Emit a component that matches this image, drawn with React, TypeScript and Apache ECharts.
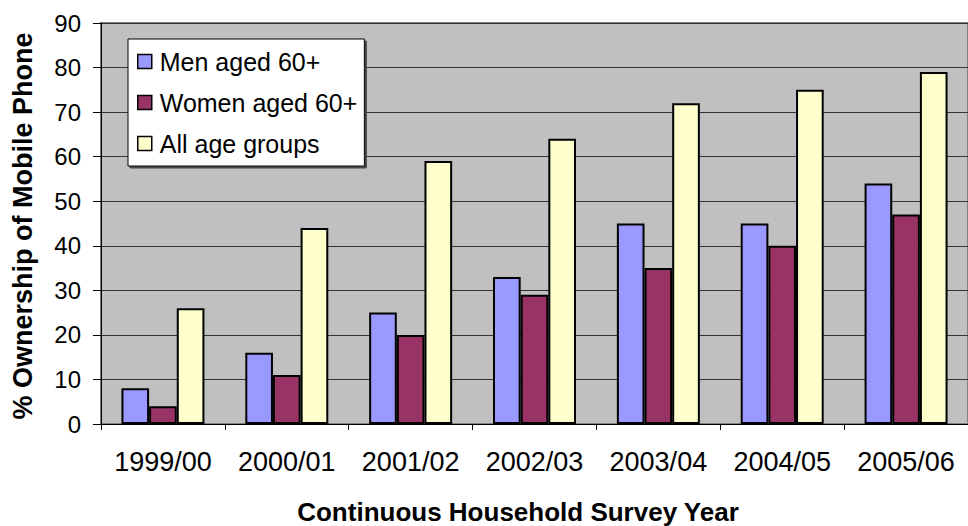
import React, { useEffect, useRef } from "react";
import * as echarts from "echarts";

const categories = ["1999/00", "2000/01", "2001/02", "2002/03", "2003/04", "2004/05", "2005/06"];
const menValues = [8, 16, 25, 33, 45, 45, 54];
const womenValues = [4, 11, 20, 29, 35, 40, 47];
const allValues = [26, 44, 59, 64, 72, 75, 79];
const seriesNames = ["Men aged 60+", "Women aged 60+", "All age groups"];
const yTitle = "% Ownership of Mobile Phone";
const xTitle = "Continuous Household Survey Year";

const FONT = "'Liberation Sans', Arial, sans-serif";

export default function App() {
  const ref = useRef<HTMLDivElement>(null);
  useEffect(() => {
    if (!ref.current) return;
    const chart = echarts.init(ref.current, undefined, { renderer: "svg" });
    const barStyle = (color: string) => ({ color, borderColor: "#000", borderWidth: 2 });
    chart.setOption({
      animation: false,
      backgroundColor: "#fff",
      textStyle: { fontFamily: FONT },
      grid: {
        left: 101,
        top: 23,
        width: 877,
        height: 401,
        show: true,
        backgroundColor: "#C0C0C0",
        borderColor: "#808080",
        borderWidth: 2,
      },
      legend: {
        orient: "vertical",
        left: 128,
        top: 39,
        backgroundColor: "#fff",
        borderColor: "#000",
        borderWidth: 1,
        shadowColor: "#444",
        shadowOffsetX: 2,
        shadowOffsetY: 2,
        shadowBlur: 0,
        padding: [10, 7, 10, 9],
        itemWidth: 14,
        itemHeight: 14,
        itemGap: 16,
        icon: "rect",
        itemStyle: { borderColor: "#000", borderWidth: 1.5 },
        textStyle: { fontFamily: FONT, fontSize: 25, color: "#000", lineHeight: 25, padding: [0, 0, 0, 3] },
        data: seriesNames,
      },
      xAxis: {
        type: "category",
        data: categories,
        axisLine: { show: true, lineStyle: { color: "#000", width: 1 } },
        axisTick: { show: true, length: 6, alignWithLabel: false, lineStyle: { color: "#000" } },
        axisLabel: { fontFamily: FONT, fontSize: 27, color: "#000", margin: 24, interval: 0 },
        splitLine: { show: false },
      },
      yAxis: {
        type: "value",
        min: 0,
        max: 90,
        interval: 10,
        axisLine: { show: true, lineStyle: { color: "#000", width: 1 } },
        axisTick: { show: true, length: 8, lineStyle: { color: "#000" } },
        axisLabel: { fontFamily: FONT, fontSize: 24, color: "#000", margin: 20 },
        splitLine: { show: true, lineStyle: { color: "#333", width: 1 } },
      },
      graphic: [
        {
          type: "text",
          x: 518,
          y: 512,
          style: {
            text: xTitle,
            align: "center",
            verticalAlign: "middle",
            font: `bold 26px ${FONT}`,
            fill: "#000",
          },
        },
        {
          type: "text",
          x: 23,
          y: 226,
          rotation: Math.PI / 2,
          style: {
            text: yTitle,
            align: "center",
            verticalAlign: "middle",
            font: `bold 27px ${FONT}`,
            fill: "#000",
          },
        },
      ],
      series: [
        {
          name: seriesNames[0],
          type: "bar",
          data: menValues,
          barGap: "0%",
          barCategoryGap: "33%",
          itemStyle: barStyle("#9999FF"),
        },
        {
          name: seriesNames[1],
          type: "bar",
          data: womenValues,
          barGap: "0%",
          barCategoryGap: "33%",
          itemStyle: barStyle("#993366"),
        },
        {
          name: seriesNames[2],
          type: "bar",
          data: allValues,
          barGap: "0%",
          barCategoryGap: "33%",
          itemStyle: barStyle("#FFFFCC"),
        },
      ],
    });
    return () => chart.dispose();
  }, []);
  return (
    <div
      ref={ref}
      style={{ position: "fixed", left: 0, top: 0, width: 968, height: 526, background: "#fff" }}
    />
  );
}
